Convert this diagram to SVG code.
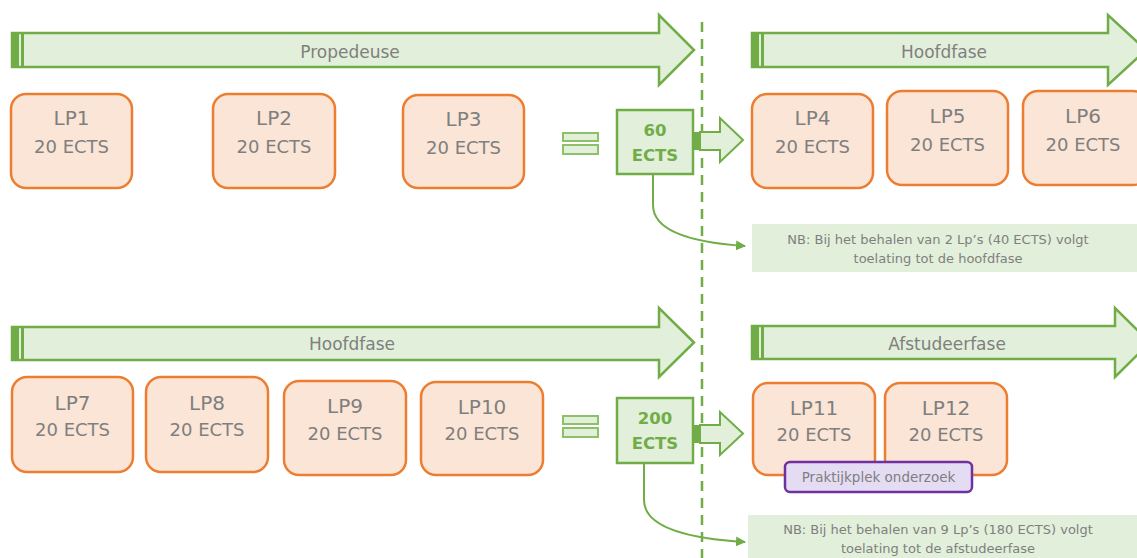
<svg xmlns="http://www.w3.org/2000/svg" width="1137" height="558" viewBox="0 0 1137 558">
<defs>
<style>
.phase{fill:#e2efda;stroke:#70ad47;stroke-width:2.5;stroke-linejoin:miter}
.bar{fill:#70ad47}
.lp rect{fill:#fbe5d6;stroke:#ed7d31;stroke-width:2.5}
.lp text, .ptxt{font-family:"DejaVu Sans",Verdana,sans-serif;fill:#7f7f7f;text-anchor:middle}
.t1{font-size:20px}
.t2{font-size:18px}
.ptxt{font-size:17px}
.eq{fill:#e2efda;stroke:#8cc168;stroke-width:2}
.sum rect{fill:#e2efda;stroke:#70ad47;stroke-width:2.5}
.sum text{font-family:"DejaVu Sans",Verdana,sans-serif;font-weight:bold;font-size:16.5px;fill:#70ad47;text-anchor:middle}
.nb rect{fill:#e2efda}
.nb text{font-family:"DejaVu Sans",Verdana,sans-serif;font-size:13px;fill:#7f7f7f;text-anchor:middle}
.conn{fill:none;stroke:#70ad47;stroke-width:2}
.dash{fill:none;stroke:#70ad47;stroke-width:2.5;stroke-dasharray:10 7}
</style>
<marker id="ah" viewBox="0 0 10 10" refX="9" refY="5" markerWidth="5" markerHeight="5" orient="auto" markerUnits="strokeWidth">
<path d="M0,0 L10,5 L0,10 z" fill="#70ad47"/>
</marker>
</defs>
<rect width="1137" height="558" fill="#ffffff"/>

<!-- Phase arrows -->
<g id="phase-propedeuse">
<polygon class="phase" points="12,33 659,33 659,15 694,50 659,85 659,67 12,67"/>
<rect class="bar" x="12" y="33" width="7" height="34"/>
<rect class="bar" x="21" y="33" width="3" height="34"/>
<text class="ptxt" x="350" y="58">Propedeuse</text>
</g>
<g id="phase-hoofdfase-1">
<polygon class="phase" points="752,33 1108,33 1108,15 1146,50 1108,85 1108,67 752,67"/>
<rect class="bar" x="752" y="33" width="7" height="34"/>
<rect class="bar" x="761" y="33" width="3" height="34"/>
<text class="ptxt" x="944" y="58">Hoofdfase</text>
</g>
<g id="phase-hoofdfase-2">
<polygon class="phase" points="12,327 659,327 659,308 694,342.5 659,377 659,360 12,360"/>
<rect class="bar" x="12" y="327" width="7" height="33"/>
<rect class="bar" x="21" y="327" width="3" height="33"/>
<text class="ptxt" x="352" y="350">Hoofdfase</text>
</g>
<g id="phase-afstudeerfase">
<polygon class="phase" points="752,326 1115,326 1115,308 1150,342.5 1115,377 1115,359 752,359"/>
<rect class="bar" x="752" y="326" width="7" height="33"/>
<rect class="bar" x="761" y="326" width="3" height="33"/>
<text class="ptxt" x="947" y="350">Afstudeerfase</text>
</g>

<!-- Connectors -->
<g id="connectors">
<line class="dash" x1="702" y1="22" x2="702" y2="558"/>
<path class="conn" d="M653,174 L653,205 Q653,240 745,246" marker-end="url(#ah)"/>
<path class="conn" d="M644,463 L644,500 Q644,536 745,542" marker-end="url(#ah)"/>
<polygon class="phase" points="700,132 720,132 720,118 743,140 720,162 720,150 700,150" style="stroke-width:2"/>
<rect class="bar" x="693" y="132" width="7" height="18"/>
<polygon class="phase" points="700,425 720,425 720,412 743,433.5 720,455 720,443 700,443" style="stroke-width:2"/>
<rect class="bar" x="693" y="425" width="7" height="18"/>
</g>

<!-- Row 1 LP boxes -->
<g id="lp1" class="lp"><rect x="11" y="94" width="121" height="94" rx="15"/><text class="t1" x="71.5" y="125">LP1</text><text class="t2" x="71.5" y="153">20 ECTS</text></g>
<g id="lp2" class="lp"><rect x="213" y="94" width="122" height="94" rx="15"/><text class="t1" x="274" y="125">LP2</text><text class="t2" x="274" y="153">20 ECTS</text></g>
<g id="lp3" class="lp"><rect x="403" y="95" width="121" height="93" rx="15"/><text class="t1" x="463.5" y="126">LP3</text><text class="t2" x="463.5" y="154">20 ECTS</text></g>
<g id="lp4" class="lp"><rect x="752" y="94" width="121" height="94" rx="15"/><text class="t1" x="812.5" y="125">LP4</text><text class="t2" x="812.5" y="153">20 ECTS</text></g>
<g id="lp5" class="lp"><rect x="887" y="91" width="121" height="94" rx="15"/><text class="t1" x="947.5" y="123">LP5</text><text class="t2" x="947.5" y="151">20 ECTS</text></g>
<g id="lp6" class="lp"><rect x="1023" y="91" width="125" height="94" rx="15"/><text class="t1" x="1083" y="123">LP6</text><text class="t2" x="1083" y="151">20 ECTS</text></g>

<!-- Row 2 LP boxes -->
<g id="lp7" class="lp"><rect x="12" y="377" width="121" height="95" rx="15"/><text class="t1" x="72.5" y="410">LP7</text><text class="t2" x="72.5" y="436">20 ECTS</text></g>
<g id="lp8" class="lp"><rect x="146" y="377" width="122" height="95" rx="15"/><text class="t1" x="207" y="410">LP8</text><text class="t2" x="207" y="436">20 ECTS</text></g>
<g id="lp9" class="lp"><rect x="284" y="381" width="122" height="94" rx="15"/><text class="t1" x="345" y="413">LP9</text><text class="t2" x="345" y="440">20 ECTS</text></g>
<g id="lp10" class="lp"><rect x="421" y="382" width="122" height="93" rx="15"/><text class="t1" x="482" y="414">LP10</text><text class="t2" x="482" y="440">20 ECTS</text></g>
<g id="lp11" class="lp"><rect x="753" y="383" width="122" height="92" rx="15"/><text class="t1" x="814" y="415">LP11</text><text class="t2" x="814" y="441">20 ECTS</text></g>
<g id="lp12" class="lp"><rect x="885" y="383" width="122" height="92" rx="15"/><text class="t1" x="946" y="415">LP12</text><text class="t2" x="946" y="441">20 ECTS</text></g>

<!-- Praktijkplek -->
<g id="praktijkplek">
<rect x="785" y="462" width="187" height="30" rx="5" fill="#e4dcf3" stroke="#7030a0" stroke-width="2.5"/>
<text x="878.5" y="482" font-family="DejaVu Sans, Verdana, sans-serif" font-size="13.5" fill="#7f7f7f" text-anchor="middle">Praktijkplek onderzoek</text>
</g>

<!-- Equals signs -->
<g id="eq1"><rect class="eq" x="563" y="133" width="35" height="8"/><rect class="eq" x="563" y="145" width="35" height="9"/></g>
<g id="eq2"><rect class="eq" x="563" y="416" width="35" height="8"/><rect class="eq" x="563" y="428" width="35" height="9"/></g>

<!-- Sum boxes -->
<g id="sum60" class="sum"><rect x="617" y="110" width="76" height="64"/><text x="655" y="136">60</text><text x="655" y="161">ECTS</text></g>
<g id="sum200" class="sum"><rect x="617" y="398" width="76" height="65"/><text x="655" y="424">200</text><text x="655" y="449">ECTS</text></g>

<!-- NB notes -->
<g id="nb1" class="nb"><rect x="752" y="224" width="385" height="48"/><text x="938" y="244">NB: Bij het behalen van 2 Lp’s (40 ECTS) volgt</text><text x="938" y="263">toelating tot de hoofdfase</text></g>
<g id="nb2" class="nb"><rect x="748" y="515" width="389" height="43"/><text x="938" y="534">NB: Bij het behalen van 9 Lp’s (180 ECTS) volgt</text><text x="938" y="553">toelating tot de afstudeerfase</text></g>
</svg>
